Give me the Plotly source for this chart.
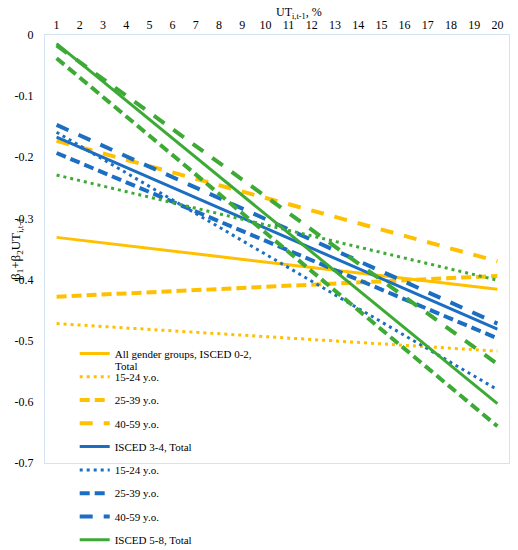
import plotly.graph_objects as go

# UT values at which each (linear) series was read
ut_points = [1, 20]

series_names = [
    "All gender groups, ISCED 0-2,", "15-24 y.o.", "25-39 y.o.", "40-59 y.o.",
    "ISCED 3-4, Total", "15-24 y.o.", "25-39 y.o.", "40-59 y.o.",
    "ISCED 5-8, Total", "15-24 y.o.", "25-39 y.o.", "40-59 y.o.",
]
first_name_cont = "Total"
# value at UT=1 and UT=20 for each series
isced02_total = [-0.331, -0.416]
isced02_15_24 = [-0.472, -0.517]
isced02_25_39 = [-0.428, -0.394]
isced02_40_59 = [-0.173, -0.370]
isced34_total = [-0.167, -0.481]
isced34_15_24 = [-0.159, -0.580]
isced34_25_39 = [-0.193, -0.496]
isced34_40_59 = [-0.147, -0.472]
isced58_total = [-0.014, -0.603]
isced58_15_24 = [-0.229, -0.401]
isced58_25_39 = [-0.038, -0.640]
isced58_40_59 = [-0.017, -0.538]

series_values = [
    isced02_total, isced02_15_24, isced02_25_39, isced02_40_59,
    isced34_total, isced34_15_24, isced34_25_39, isced34_40_59,
    isced58_total, isced58_15_24, isced58_25_39, isced58_40_59,
]

x_ticks = list(range(1, 21))
y_ticks = [0, -0.1, -0.2, -0.3, -0.4, -0.5, -0.6, -0.7]
y_ticktext = ["0", "-0.1", "-0.2", "-0.3", "-0.4", "-0.5", "-0.6", "-0.7"]

YELLOW = "#FFC000"
BLUE = "#1B6EC2"
GREEN = "#3DAA35"
colors = [YELLOW] * 4 + [BLUE] * 4 + [GREEN] * 4
styles = [
    ("solid", 3), ("3px,4px", 3), ("10px,5px", 4), ("13px,11px", 4),
] * 3

FONT = "Liberation Serif, serif"

W, H = 510, 542
L, T = 37, 27
R = W - 501
B = H - 455

fig = go.Figure()
for i, (name, vals) in enumerate(zip(series_names, series_values)):
    dash, w = styles[i]
    fig.add_trace(go.Scatter(
        x=ut_points, y=vals, mode="lines", name=name,
        line=dict(color=colors[i], width=w, dash=dash),
        legendgroup=f"g{i}",
    ))

plot_h = H - T - B
plot_w = W - L - R

fig.update_layout(
    width=W, height=H,
    margin=dict(l=L, r=R, t=T, b=B, autoexpand=False),
    paper_bgcolor="white", plot_bgcolor="white",
    font=dict(family=FONT, size=12, color="black"),
    showlegend=True,
    legend=dict(
        x=0.064, y=0.29, xanchor="left", yanchor="top",
        bgcolor="rgba(0,0,0,0)", font=dict(size=11, family=FONT, color="black"),
        tracegroupgap=4.3, maxheight=2000,
    ),
    xaxis=dict(
        side="top", range=[0.5, 20.5], tickvals=x_ticks,
        showgrid=False, zeroline=False, ticks="",
        showline=True, linecolor="#d3e3f3", linewidth=1, mirror=True,
        ticklabelstandoff=0, tickfont=dict(size=12, family=FONT),
    ),
    yaxis=dict(
        range=[-0.7, 0], tickvals=y_ticks, ticktext=y_ticktext,
        showgrid=False, zeroline=False, ticks="",
        showline=True, linecolor="#d3e3f3", linewidth=1, mirror=True,
        ticklabelstandoff=8, tickfont=dict(size=12, family=FONT),
        title=dict(text="β<sub>1</sub>+β<sub>2</sub>UT<sub>i,t-1</sub>",
                   font=dict(size=13, family=FONT), standoff=9),
    ),
    annotations=[
        dict(
            text="UT<sub>i,t-1</sub>, %", xref="paper", yref="paper",
            x=(299 - 45) / plot_w, y=1, yshift=22, xanchor="center", yanchor="middle",
            showarrow=False, font=dict(size=12, family=FONT),
        ),
        dict(
            text=first_name_cont, xref="paper", yref="paper",
            x=(115 - 45) / plot_w, y=(463 - 366) / plot_h, xanchor="left", yanchor="middle",
            showarrow=False, font=dict(size=11, family=FONT), xshift=-2,
        ),
    ],
)

fig.write_html("out.html")
